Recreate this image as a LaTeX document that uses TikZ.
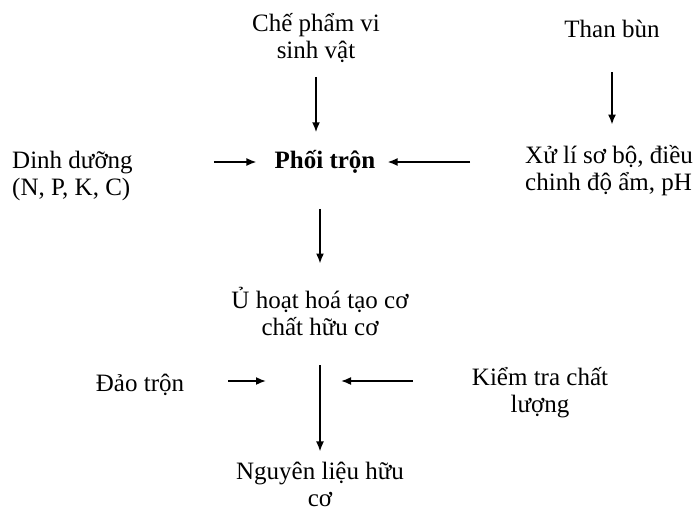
\documentclass[tikz,border=0pt]{standalone}
\usepackage{fontspec}
\setmainfont{Liberation Serif}
\usetikzlibrary{arrows.meta}
\begin{document}
\begin{tikzpicture}[x=1pt,y=-1pt,
  lbl/.style={inner sep=0pt,font=\fontsize{25}{27}\selectfont},
  arr/.style={line width=1.7pt,-{Latex[length=10pt,width=8pt]}}]
\useasboundingbox[fill=white] (0,0) rectangle (700,514);
\node[lbl,align=center] (che) at (316,38) {Chế phẩm vi\\sinh vật};
\node[lbl] (than) at (612,29) {Than bùn};
\node[lbl,align=left,anchor=west] (dinh) at (12,176) {Dinh dưỡng\\(N, P, K, C)};
\node[lbl,font=\fontsize{25}{27}\selectfont\bfseries] (phoi) at (325,162) {Phối trộn};
\node[lbl,align=left,anchor=west] (xuli) at (525,171) {Xử lí sơ bộ, điều\\chinh độ ẩm, pH};
\node[lbl,align=center] (u) at (320,311) {Ủ hoạt hoá tạo cơ\\chất hữu cơ};
\node[lbl,align=center] (dao) at (140,385) {Đảo trộn};
\node[lbl,align=center] (kiem) at (540,393) {Kiểm tra chất\\lượng};
\node[lbl,align=center] (nguyen) at (320,484) {Nguyên liệu hữu\\cơ};
\coordinate (j) at (321,381);
% arrows
\draw[arr,shorten <=14pt,shorten >=18pt] (che.south) -- (che.south |- phoi.north);
\draw[arr,shorten <=34pt,shorten >=21pt] (than.south) -- (than.south |- xuli.north);
\draw[arr,shorten <=81pt,shorten >=18pt] (dinh.east |- phoi.west) -- (phoi.west);
\draw[arr,shorten <=55pt,shorten >=12pt] (xuli.west |- phoi.east) -- (phoi.east);
\draw[arr,shorten <=35pt,shorten >=23pt] (u.north |- phoi.south) -- (u.north);
\draw[arr,shorten <=30pt,shorten >=10pt] (u.south) -- (nguyen.north);
\draw[arr,shorten <=44pt,shorten >=55pt] (dao.east |- j) -- (j);
\draw[arr,shorten <=59pt,shorten >=20pt] (kiem.west |- j) -- (j);
\end{tikzpicture}
\end{document}
